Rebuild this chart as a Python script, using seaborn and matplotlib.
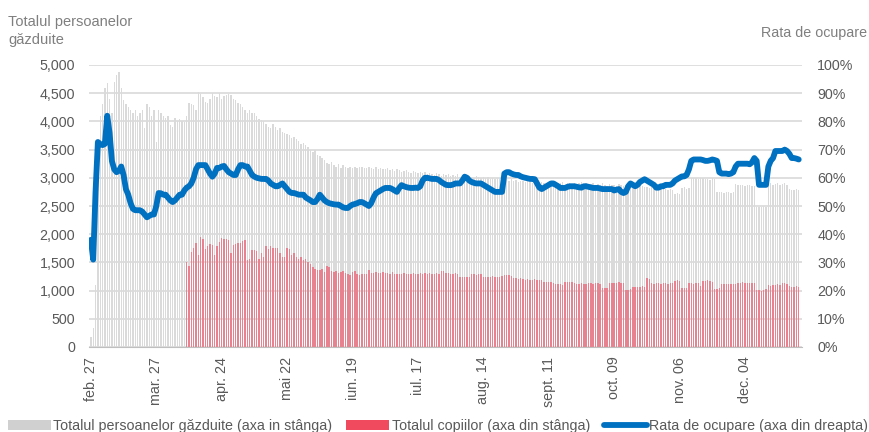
import numpy as np
import pandas as pd
import matplotlib
matplotlib.use("Agg")
import matplotlib.pyplot as plt
import seaborn as sns
from matplotlib.patches import Patch
from matplotlib.lines import Line2D
from matplotlib.ticker import FuncFormatter, MultipleLocator

# ----------------- Data -----------------
start_date = "2022-02-27"
children_start = "2022-04-09"

tick_labels = ["feb. 27", "mar. 27", "apr. 24", "mai 22", "iun. 19", "iul. 17",
               "aug. 14", "sept. 11", "oct. 09", "nov. 06", "dec. 04"]

# Totalul persoanelor gazduite (daily)
total_hosted = [
    180, 340, 1100, 3000, 4100, 4300, 4600, 4680, 4400, 4150, 4700, 4820, 4870, 4600,
    4380, 4300, 4250, 4200, 4150, 4200, 4100, 4150, 4200, 3880, 4300, 4250, 4100, 4200,
    3630, 4200, 4150, 4100, 4060, 4100, 3940, 3900, 4060, 4000, 4050, 4000, 3990, 4100,
    4330, 4300, 4290, 4200, 4520, 4480, 4430, 4340, 4330, 4400, 4500, 4450, 4430, 4500,
    4400, 4450, 4470, 4480, 4470, 4400, 4380, 4320, 4300, 4250, 4200, 4150, 4200, 4150,
    4150, 4100, 4050, 4020, 4000, 3950, 3900, 3880, 3950, 3900, 3850, 3880, 3810, 3800,
    3780, 3760, 3700, 3720, 3680, 3650, 3600, 3620, 3580, 3550, 3500, 3450, 3490, 3400,
    3380, 3350, 3320, 3260, 3250, 3280, 3220, 3200, 3250, 3180, 3220, 3200, 3170, 3200,
    3180, 3200, 3170, 3190, 3200, 3180, 3170, 3190, 3180, 3150, 3190, 3160, 3180, 3150,
    3150, 3170, 3140, 3160, 3120, 3150, 3130, 3100, 3120, 3140, 3100, 3080, 3120, 3100,
    3090, 3110, 3080, 3100, 3060, 3090, 3070, 3050, 3080, 3060, 3040, 3070, 3050, 3060,
    3040, 3050, 3030, 3060, 3020, 3040, 3030, 3010, 3040, 3020, 3000, 3030, 3010, 3000,
    3020, 2990, 3010, 2980, 3000, 2970, 2990, 3000, 2980, 2960, 2980, 2950, 2970, 2940,
    2960, 2930, 2950, 2940, 2920, 2950, 2930, 2910, 2940, 2920, 2900, 2930, 2910, 2900,
    2920, 2900, 2930, 2890, 2910, 2900, 2920, 2880, 2900, 2910, 2890, 2900, 2880, 2900,
    2920, 2890, 2900, 2870, 2890, 2900, 2880, 2890, 2870, 2900, 2880, 2860, 2890, 2870,
    2880, 2860, 2890, 2870, 2850, 2880, 2860, 2870, 2850, 2840, 2860, 2870, 2850, 2830,
    2840, 2820, 2830, 2810, 2820, 2800, 2810, 2820, 2800, 2790, 2810, 2790, 2720, 2730,
    2720, 2820, 2830, 2810, 2820, 3000, 2990, 3000, 2980, 2990, 3000, 2970, 2980, 2960,
    2990, 2970, 2750, 2740, 2750, 2730, 2750, 2740, 2730, 2750, 2890, 2880, 2870, 2880,
    2860, 2870, 2880, 2850, 2860, 2480, 2490, 2480, 2500, 2490, 2890, 2900, 2880, 2890,
    2900, 2880, 2890, 2900, 2880, 2800, 2790, 2780, 2800, 2780,
]

# Totalul copiilor (daily, from children_start)
children = [
    1510, 1440, 1680, 1760, 1850, 1630, 1945, 1910, 1740, 1790, 1830, 1810, 1630, 1790,
    1870, 1930, 1910, 1910, 1900, 1660, 1810, 1820, 1840, 1840, 1880, 1890, 1550, 1560,
    1720, 1720, 1710, 1560, 1660, 1600, 1790, 1730, 1790, 1760, 1760, 1760, 1660, 1600,
    1600, 1760, 1730, 1630, 1660, 1600, 1560, 1600, 1540, 1560, 1500, 1480, 1420, 1380,
    1370, 1360, 1390, 1330, 1430, 1420, 1350, 1330, 1350, 1310, 1330, 1350, 1310, 1300,
    1270, 1330, 1340, 1300, 1280, 1300, 1290, 1300, 1360, 1320, 1310, 1330, 1320, 1310,
    1330, 1320, 1310, 1290, 1330, 1290, 1300, 1290, 1300, 1310, 1290, 1300, 1290, 1310,
    1300, 1290, 1310, 1300, 1310, 1290, 1310, 1300, 1290, 1310, 1300, 1340, 1350, 1320,
    1310, 1300, 1290, 1310, 1300, 1240, 1240, 1250, 1240, 1250, 1290, 1290, 1280, 1290,
    1290, 1250, 1250, 1240, 1250, 1260, 1250, 1240, 1250, 1260, 1280, 1270, 1280, 1260,
    1220, 1220, 1210, 1220, 1200, 1190, 1200, 1180, 1190, 1200, 1180, 1190, 1180, 1150,
    1150, 1160, 1150, 1140, 1110, 1110, 1120, 1100, 1160, 1160, 1150, 1160, 1130, 1120,
    1110, 1130, 1120, 1110, 1130, 1130, 1120, 1130, 1130, 1120, 1040, 1040, 1050, 1140,
    1140, 1130, 1140, 1150, 1140, 1130, 1010, 1010, 1020, 1070, 1070, 1060, 1070, 1080,
    1070, 1220, 1200, 1130, 1120, 1130, 1130, 1120, 1130, 1130, 1120, 1130, 1140, 1170,
    1180, 1170, 1040, 1050, 1040, 1130, 1130, 1120, 1130, 1130, 1080, 1170, 1170, 1180,
    1170, 1160, 1030, 1030, 1040, 1120, 1120, 1110, 1120, 1120, 1110, 1120, 1140, 1140,
    1150, 1140, 1130, 1140, 1140, 1140, 1010, 1010, 1000, 1010, 1020, 1100, 1090, 1100,
    1100, 1110, 1100, 1130, 1130, 1120, 1080, 1070, 1070, 1080, 1070,
]

# Rata de ocupare (%, daily)
occupancy = [
    38, 31, 55, 72.7, 72, 71.6, 72, 82, 76, 66, 63, 62, 62.5, 64,
    61, 56, 54, 51, 49, 48.5, 48.5, 48.5, 48, 47, 46, 46.5, 47, 47,
    50, 54.6, 54.5, 54, 54, 53, 52, 51.4, 52, 53, 54, 54, 55.5, 56.5,
    57, 58, 60, 63, 64.5, 64.5, 64.5, 64.5, 63, 61.5, 60.4, 61.5, 63.5, 63.5,
    64, 64.2, 63, 62, 61.5, 61, 61, 63, 64.5, 64.5, 64, 64, 62.5, 61,
    60.4, 60, 59.8, 59.6, 59.6, 59.6, 59, 58, 57.5, 57, 57, 57.5, 58, 57,
    56, 55, 54.6, 54.6, 54.3, 54, 54, 54, 53, 52.5, 52, 51.4, 51.4, 52.5,
    54, 53, 52, 51.4, 51, 50.8, 50.6, 50.5, 50.5, 50, 49.5, 49.3, 49.3, 50,
    50.5, 50.7, 51, 51.4, 51.4, 51, 50.5, 50, 51, 53, 54.5, 55, 55.5, 56,
    56.4, 56.4, 56.4, 56, 55.5, 55, 56.4, 57.4, 57, 56.7, 56.5, 56.4, 56.4, 56.5,
    56.4, 57, 59, 60, 60, 59.8, 59.6, 59.6, 59.6, 59.2, 58.5, 58, 57.5, 57.4,
    57.4, 57.6, 58, 58, 58, 59, 60.4, 60, 59, 58.5, 58.2, 58, 58, 58,
    57.5, 57, 56.5, 56, 55.5, 55, 55, 55, 55, 61.5, 62, 62, 61.5, 61.2,
    61, 61, 60.5, 60.2, 60, 59.8, 59.6, 59.6, 59.5, 58, 56.5, 56, 56.5, 57,
    57.5, 58, 58, 57.5, 57, 56.4, 56.4, 56.4, 56.8, 57, 57, 57, 56.8, 56.6,
    56.5, 57, 57, 56.8, 56.6, 56.4, 56.4, 56.4, 56.2, 56, 56, 56, 56, 56,
    55.5, 55.8, 56, 55, 54.6, 55, 57, 58, 57.5, 57, 57.5, 58.5, 59, 59.5,
    59, 58.5, 58, 57.5, 56.5, 56.5, 57, 57, 57.5, 57.5, 57.5, 58, 59, 59.5,
    60, 60.5, 60.5, 61, 63, 66, 66.5, 66.5, 66.5, 66.5, 66.3, 66, 66, 66.2,
    66.5, 66.3, 66, 62, 61.5, 61.5, 61.5, 61.3, 61.5, 62, 64, 65, 65, 65,
    65, 65, 64.8, 65.5, 67, 66, 57.5, 57.5, 57.5, 57.5, 64, 66, 67, 69.5,
    69.5, 69.5, 69.5, 70, 69.5, 68.5, 67, 67, 66.8, 66.5,
]

legend_labels = ["Totalul persoanelor găzduite (axa in stânga)",
                 "Totalul copiilor (axa din stânga)",
                 "Rata de ocupare (axa din dreapta)"]

# ----------------- Frames -----------------
n_days = len(total_hosted)
df = pd.DataFrame({"day": np.arange(n_days), "total": total_hosted, "rate": occupancy})
offset = (pd.Timestamp(children_start) - pd.Timestamp(start_date)).days
df_kids = pd.DataFrame({"day": np.arange(offset, offset + len(children)), "kids": children})
tick_pos = [(d - pd.Timestamp(start_date)).days
            for d in pd.date_range(start_date, periods=len(tick_labels), freq="28D")]

# ----------------- Style -----------------
sns.set_style("white")
plt.rcParams["font.family"] = ["Liberation Sans", "DejaVu Sans"]
plt.rcParams["font.size"] = 10.3

gray_bar = "#d0d0d0"
red_bar = "#f04a5f"
blue = "#0070c0"
txt = "#595959"

fig = plt.figure(figsize=(8.7, 4.32), dpi=100)
ax = fig.add_axes([89 / 870, 1 - 347 / 432, (802 - 89) / 870, (347 - 65) / 432])

sns.barplot(data=df, x="day", y="total", native_scale=True, color="#dadada",
            width=0.6, errorbar=None, ax=ax, linewidth=0, saturation=1)
sns.barplot(data=df_kids, x="day", y="kids", native_scale=True, color=red_bar,
            width=0.6, errorbar=None, ax=ax, linewidth=0, saturation=1, alpha=0.6)

ax2 = ax.twinx()
sns.lineplot(data=df, x="day", y="rate", color=blue, linewidth=4.2, ax=ax2,
             solid_joinstyle="round", solid_capstyle="round")

ax.set_xlim(-0.8, 304.4)
ax.set_ylim(0, 5000)
ax2.set_ylim(0, 100)
ax.yaxis.set_major_locator(MultipleLocator(500))
ax2.yaxis.set_major_locator(MultipleLocator(10))
ax.yaxis.set_major_formatter(FuncFormatter(lambda v, p: f"{v:,.0f}"))
ax2.yaxis.set_major_formatter(FuncFormatter(lambda v, p: f"{v:.0f}%"))

ax.set_xticks(tick_pos)
ax.set_xticklabels(tick_labels, rotation=90)
ax.set_xlabel("")
ax.set_ylabel("")
ax2.set_ylabel("")

ax.grid(axis="y", color="#d9d9d9", linewidth=1.2)
ax.set_axisbelow(True)
for a in (ax, ax2):
    for s in ("top", "left", "right"):
        a.spines[s].set_visible(False)
    a.spines["bottom"].set_color("#bfbfbf")
ax2.spines["bottom"].set_visible(False)

ax.tick_params(axis="x", length=4, color="#bfbfbf", labelsize=10.3, labelcolor=txt, pad=3)
ax.tick_params(axis="y", length=0, labelsize=10.3, labelcolor=txt, pad=10)
ax2.tick_params(axis="y", length=0, labelsize=10.3, labelcolor=txt, pad=11)

fig.text(8 / 870, 1 - 26 / 432, "Totalul persoanelor", color="#7f7f7f",
         fontsize=10.5, ha="left", va="baseline")
fig.text(8 / 870, 1 - 44 / 432, "găzduite", color="#7f7f7f",
         fontsize=10.5, ha="left", va="baseline")
fig.text(1 - 3 / 870, 1 - 33 / 432, "Rata de ocupare", color="#7f7f7f",
         fontsize=10.3, ha="right", va="center")

handles = [Patch(facecolor=gray_bar, edgecolor="none"),
           Patch(facecolor=red_bar, edgecolor="none"),
           Line2D([0], [0], color=blue, linewidth=4.2, solid_capstyle="round")]
fig.legend(handles, legend_labels, loc="center left", bbox_to_anchor=(8 / 870, 6 / 432),
           ncol=3, frameon=False, fontsize=10.3, handlelength=3.0, handleheight=0.7,
           handletextpad=0.15, columnspacing=1.0, borderpad=0, borderaxespad=0,
           labelcolor=txt)

fig.savefig("out.png", dpi=100)
